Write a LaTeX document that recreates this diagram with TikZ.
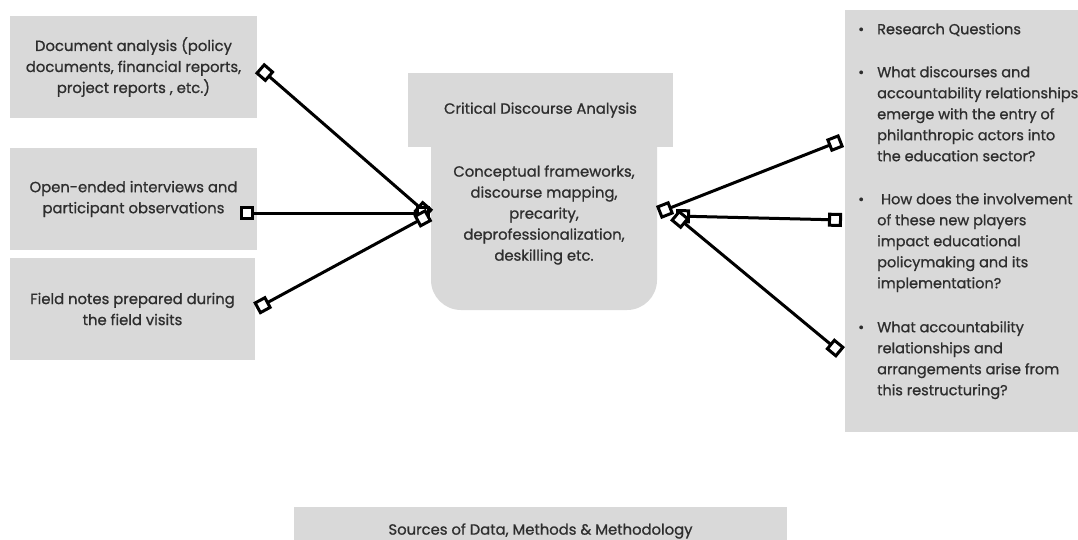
\documentclass[tikz,border=0pt]{standalone}
\usepackage{fontspec}
\setmainfont{Poppins}[FakeBold=0.9]
\usetikzlibrary{arrows.meta}
\definecolor{boxgray}{HTML}{D9D9D9}
\definecolor{inkgray}{HTML}{2E2E2E}
\tikzset{
  box/.style={fill=boxgray, inner sep=0pt, text=inkgray, align=center,
    font=\fontsize{14.8}{21}\selectfont},
  txt/.style={inner sep=0pt, text=inkgray, font=\fontsize{14.8}{21}\selectfont},
  qtxt/.style={inner sep=0pt, text=inkgray, font=\fontsize{14.5}{21}\selectfont},
  sqtip/.tip={Square[open, fill=white, length=14pt, width=14pt]},
  conn/.style={line width=3pt, draw=black, {sqtip}-{sqtip}}
}
\newcommand{\bul}{\makebox[19pt][l]{\textbullet}}
\newcommand{\ind}{\hspace*{19pt}}
\begin{document}
\begin{tikzpicture}[x=1pt, y=-1pt]
  \useasboundingbox (0,0) rectangle (1078,539);
  \clip (0,0) rectangle (1078,539);

  % source boxes on the left
  \node[box, minimum width=247pt, minimum height=102pt] (doc) at (133.5,67)
    {Document analysis (policy\\documents, financial reports,\\project reports , etc.)};
  \node[box, minimum width=247pt, minimum height=102pt] (int) at (133.5,199)
    {Open-ended interviews and\\participant observations};
  \node[box, minimum width=245pt, minimum height=102pt] (fld) at (132.5,309)
    {Field notes prepared during\\the field visits};

  % central analysis block: rounded lower body under a wider header
  \fill[boxgray, rounded corners=30pt] (431,110) rectangle (657,310);
  \node[box, minimum width=265pt, minimum height=74pt] (cda) at (540.5,110)
    {\raisebox{-2pt}{Critical Discourse Analysis}};
  \node[txt, align=center] (cf) at (544,215)
    {Conceptual frameworks,\\discourse mapping,\\precarity,\\deprofessionalization,\\deskilling etc.};

  % research questions panel
  \node[fill=boxgray, minimum width=260pt, minimum height=422pt, inner sep=0pt] (rq) at (975,221) {};
  \node[qtxt, anchor=north west, align=left] (rqt) at (858,23)
    {\bul Research Questions\\[22pt]
     \bul What discourses and\\
     \ind accountability relationships\\
     \ind emerge with the entry of\\
     \ind philanthropic actors into\\
     \ind the education sector?\\[22pt]
     \bul \ How does the involvement\\
     \ind of these new players\\
     \ind impact educational\\
     \ind policymaking and its\\
     \ind implementation?\\[23pt]
     \bul What accountability\\
     \ind relationships and\\
     \ind arrangements arise from\\
     \ind this restructuring?};

  % footer label
  \node[box, minimum width=493pt, minimum height=48pt] (src) at (540.5,531)
    {Sources of Data, Methods \& Methodology};

  % connector ends
  \coordinate (hubL1) at (428.5,215);
  \coordinate (hubL2) at (430,213);
  \coordinate (hubL3) at (429,215);
  \coordinate (hubR1) at (658.5,212.5);
  \coordinate (hubR2) at (676,216);
  \coordinate (hubR3) at (674.5,215);
  \coordinate (docE) at (259.5,68);
  \coordinate (intE) at (240,213);
  \coordinate (fldE) at (256.5,308.5);
  \coordinate (rq1) at (841.5,140.5);
  \coordinate (rq2) at (842,220);
  \coordinate (rq3) at (840.5,352.5);

  \draw[conn] (docE) -- (hubL1);
  \draw[conn] (intE) -- (hubL2);
  \draw[conn] (fldE) -- (hubL3);
  \draw[conn] (hubR1) -- (rq1);
  \draw[conn] (hubR2) -- (rq2);
  \draw[conn] (hubR3) -- (rq3);
\end{tikzpicture}
\end{document}
